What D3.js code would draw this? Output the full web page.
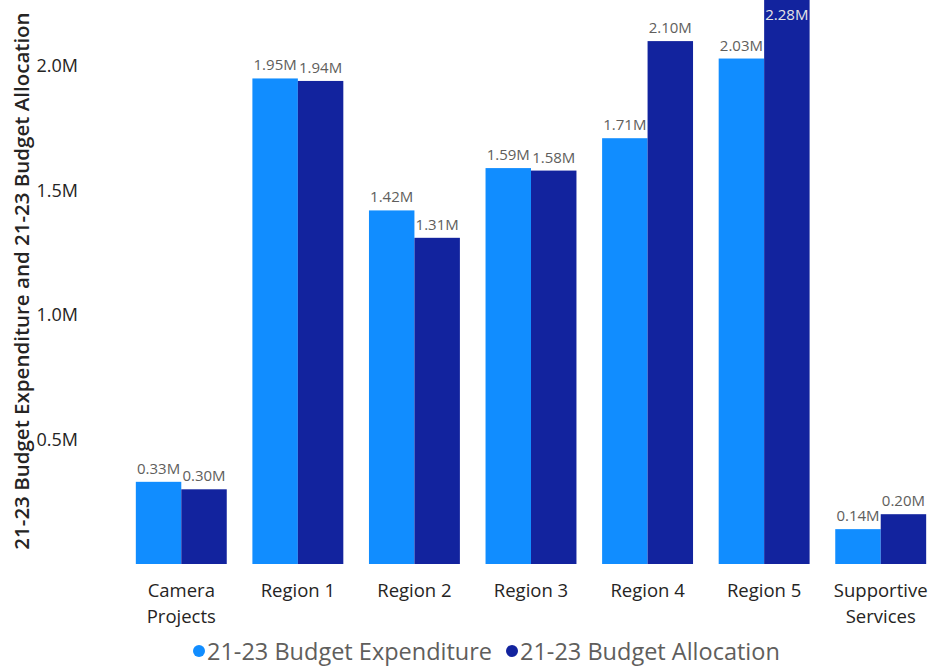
<!DOCTYPE html>
<html>
<head>
<meta charset="utf-8">
<script src="https://cdn.jsdelivr.net/npm/d3@7"></script>
<style>
  body { margin: 0; background: #fff; }
  text { font-family: "Open Sans", sans-serif; }
</style>
</head>
<body>
<div id="chart"></div>
<script>
// chart data
const categories = ['Camera\nProjects', 'Region 1', 'Region 2', 'Region 3', 'Region 4', 'Region 5', 'Supportive\nServices'];
const seriesNames = ['21-23 Budget Expenditure', '21-23 Budget Allocation'];
const expenditure = [0.33, 1.95, 1.42, 1.59, 1.71, 2.03, 0.14];
const allocation = [0.30, 1.94, 1.31, 1.58, 2.10, 2.28, 0.20];
const yTicks = [0.5, 1.0, 1.5, 2.0];
const yTitle = '21-23 Budget Expenditure and 21-23 Budget Allocation';

const colors = ['#118DFF', '#12239E'];

const width = 929;
const height = 666;
const baseline = 564;

let rows = categories.map((c, i) => ({ cat: c, values: [expenditure[i], allocation[i]] }));

let svg = d3.select('#chart')
    .append('svg')
    .attr('width', width)
    .attr('height', height);

const x0 = d3.scaleBand()
    .domain(categories)
    .range([123, 939])
    .paddingInner(0.22)
    .paddingOuter(0.11);

const x1 = d3.scaleBand()
    .domain([0, 1])
    .range([0, x0.bandwidth()]);

const y = d3.scaleLinear()
    .domain([0, 1])
    .range([baseline, baseline - 249]);

// y axis labels (no line)
let yAxis = svg.append('g')
    .attr('transform', 'translate(80,0)')
    .call(d3.axisLeft(y).tickValues(yTicks).tickFormat(d => d.toFixed(1) + 'M').tickSize(0).tickPadding(2));
yAxis.select('.domain').remove();
yAxis.selectAll('text')
    .style('font-family', '"Open Sans", sans-serif')
    .style('font-size', '18px')
    .attr('fill', '#252423');

svg.append('text')
    .attr('transform', 'translate(21,281) rotate(-90)')
    .attr('text-anchor', 'middle')
    .attr('dominant-baseline', 'central')
    .attr('font-size', '20.5px')
    .attr('font-weight', 600)
    .attr('fill', '#252423')
    .text(yTitle);

// bars
let groups = svg.selectAll('g.grp')
    .data(rows)
    .enter()
    .append('g')
    .attr('class', 'grp')
    .attr('transform', d => `translate(${x0(d.cat)},0)`);

groups.selectAll('rect')
    .data(d => d.values)
    .enter()
    .append('rect')
    .attr('x', (d, i) => x1(i))
    .attr('y', d => Math.max(y(d), -5))
    .attr('width', x1.bandwidth())
    .attr('height', d => baseline - Math.max(y(d), -5))
    .attr('fill', (d, i) => colors[i]);

// data labels
groups.selectAll('text.lbl')
    .data(d => d.values)
    .enter()
    .append('text')
    .attr('class', 'lbl')
    .attr('x', (d, i) => x1(i) + x1.bandwidth() / 2)
    .attr('y', d => y(d) - 14 < 8 ? 14 : y(d) - 14)
    .attr('text-anchor', 'middle')
    .attr('dominant-baseline', 'central')
    .attr('font-size', '15px')
    .attr('fill', d => y(d) - 14 < 8 ? '#E6E6E6' : '#605E5C')
    .text(d => d.toFixed(2) + 'M');

// category labels
let xLabels = svg.selectAll('text.cat')
    .data(categories)
    .enter()
    .append('text')
    .attr('class', 'cat')
    .attr('text-anchor', 'middle')
    .attr('font-size', '18.5px')
    .attr('fill', '#252423');
xLabels.each(function (d) {
    let t = d3.select(this);
    d.split('\n').forEach((line, k) => {
        t.append('tspan')
            .attr('x', x0(d) + x0.bandwidth() / 2)
            .attr('y', 589 + k * 26)
            .attr('dominant-baseline', 'central')
            .text(line);
    });
});

// legend
const legendX = [199, 512];
seriesNames.forEach((name, i) => {
    let g = svg.append('g').attr('transform', `translate(${legendX[i]},651)`);
    g.append('circle').attr('r', 6).attr('fill', colors[i]);
    g.append('text')
        .attr('x', 8)
        .attr('dominant-baseline', 'central')
        .attr('font-size', '23.5px')
        .attr('fill', '#605E5C')
        .text(name);
});
</script>
</body>
</html>
